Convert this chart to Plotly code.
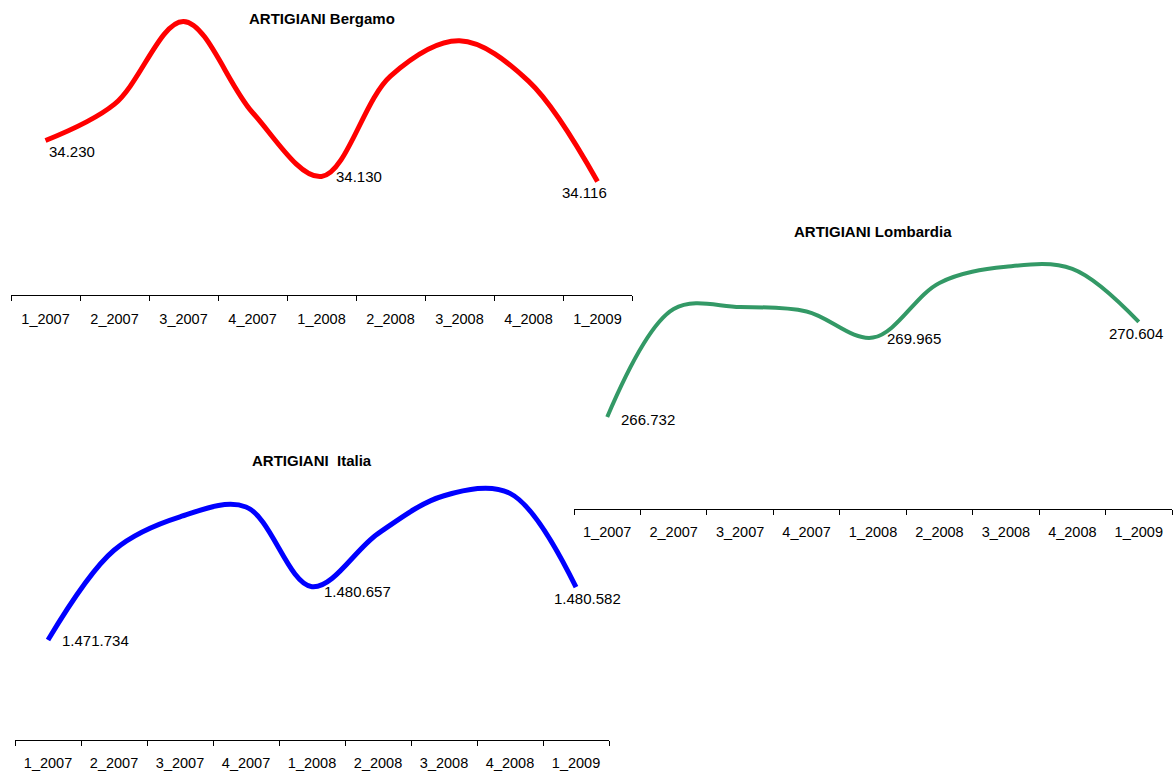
import plotly.graph_objects as go

# trimestri
periodi = ["1_2007", "2_2007", "3_2007", "4_2007", "1_2008", "2_2008", "3_2008", "4_2008", "1_2009"]

# artigiani iscritti
bergamo = [34230, 34331, 34561, 34308, 34130, 34409, 34507, 34395, 34116]
lombardia = [266732, 271127, 271209, 271029, 269965, 272191, 272845, 272764, 270604]
italia = [1471734, 1486770, 1492360, 1494020, 1480657, 1489560, 1495900, 1496300, 1480582]

# punti con etichetta
etichettati = [0, 4, 8]

W, H = 1173, 771


def fmt(v):
    return f"{v:,}".replace(",", ".")


def dom_x(a, b):
    return [a / W, b / W]


def dom_y(top, bottom):
    return [1 - bottom / H, 1 - top / H]


fig = go.Figure()

pannelli = [
    # nome, valori, colore, spessore, etichette (xanchor, dx, dy), asse x px, asse y px (top, bottom), range y, titolo px
    ("ARTIGIANI Bergamo", bergamo, "#FF0000", 5,
     [("left", 1, -11), ("left", 12, 0), ("center", -13, -11)],
     (11, 632), (7.4, 296), (33800, 34600), (322, 19)),
    ("ARTIGIANI Lombardia", lombardia, "#339966", 4,
     [("left", 12, -2), ("left", 12, -1), ("center", -3, -12)],
     (574, 1172), (239.1, 510), (263000, 274000), (873, 232)),
    ("ARTIGIANI  Italia", italia, "#0000FF", 5,
     [("left", 12, -1), ("left", 10, -5), ("center", 11, -11)],
     (15, 609), (472.5, 741.8), (1455000, 1500000), (312, 462)),
]

for i, (nome, vals, col, lw, lab, xa, ya, yr, tpos) in enumerate(pannelli):
    n = "" if i == 0 else str(i + 1)
    fig.add_trace(go.Scatter(
        x=periodi, y=vals, mode="lines",
        line=dict(color=col, width=lw, shape="spline", smoothing=1),
        xaxis="x" + n, yaxis="y" + n, showlegend=False, hoverinfo="skip",
        cliponaxis=False,
    ))
    for k, (anc, dx, dy) in zip(etichettati, lab):
        fig.add_annotation(text=fmt(vals[k]), x=periodi[k], y=vals[k],
                           xref="x" + n, yref="y" + n, showarrow=False,
                           xanchor=anc, yanchor="middle", xshift=dx, yshift=dy,
                           font=dict(size=15, color="black"))
    fig.update_layout({
        "xaxis" + n: dict(domain=dom_x(*xa), anchor="y" + n, type="category",
                          range=[-0.5, len(periodi) - 0.5],
                          showline=True, linecolor="black", linewidth=1,
                          ticks="outside", tickson="boundaries", ticklen=5,
                          tickcolor="black", showgrid=False, zeroline=False,
                          ticklabelstandoff=10,
                          tickfont=dict(size=14.5, color="black")),
        "yaxis" + n: dict(domain=dom_y(*ya), anchor="x" + n, range=list(yr),
                          visible=False, showgrid=False),
    })
    fig.add_annotation(text="<b>" + nome + "</b>", x=tpos[0] / W, y=1 - tpos[1] / H,
                       xref="paper", yref="paper", showarrow=False,
                       xanchor="center", yanchor="middle",
                       font=dict(size=15, color="black"))

fig.update_layout(
    width=W, height=H,
    margin=dict(l=0, r=0, t=0, b=0),
    paper_bgcolor="white", plot_bgcolor="rgba(0,0,0,0)",
    font=dict(family="Liberation Sans, Arial, sans-serif"),
)

fig.write_html("out.html", config={"displayModeBar": False},
               post_script="document.body.style.margin='0';")
